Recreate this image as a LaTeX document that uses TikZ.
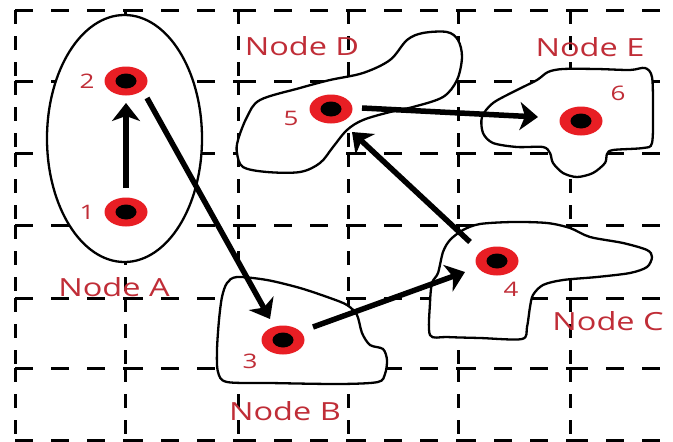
\documentclass[tikz,border=0pt]{standalone}
\usepackage{fontspec}
\setmainfont{Open Sans}
\usetikzlibrary{arrows.meta,shapes.geometric}
\definecolor{dotred}{RGB}{232,30,36}
\definecolor{txtred}{RGB}{192,45,55}
\begin{document}
\begin{tikzpicture}[x=1pt,y=-1pt,
  hdash/.style={line width=3pt, dash pattern=on 18pt off 18pt},
  vdash/.style={line width=3pt, dash pattern=on 14pt off 12pt},
  blob/.style={draw=black, fill=white, line width=2.3pt},
  arr/.style={line width=5.5pt, -{Stealth[length=18pt,width=28pt,inset=5pt]}},
  dot/.style={ellipse, fill=dotred, minimum width=43pt, minimum height=29pt, inner sep=0pt,
    path picture={\fill[black] (path picture bounding box.center) ellipse [x radius=10.5pt, y radius=7.5pt];}},
  numlbl/.style={text=txtred, inner sep=0pt, font=\fontsize{20}{20}\selectfont},
  namelbl/.style={text=txtred, inner sep=0pt, font=\fontsize{25}{25}\selectfont}
]
\useasboundingbox (0,0) rectangle (673,442);
\fill[white] (0,0) rectangle (673,442);
% grid
\foreach \y in {10,81,153,225,298,368,440} {
  \foreach \xa/\xb in {15/125,125/238,238/348,348/458,458/570,570/673} {
    \draw[hdash] (\xa,\y) -- (\xb,\y);
  }
}
\foreach \x in {15,125,238,348,458,570} {
  \foreach \ya/\yb in {10/81,81/153,153/225,225/298,298/368,368/440} {
    \draw[vdash] (\x,\ya) -- (\x,\yb);
  }
}
% Node A ellipse
\draw[blob] (124.5,138.5) ellipse [x radius=77.5, y radius=123.5];
% Node D blob
\draw[blob] plot[smooth cycle, tension=0.55] coordinates {
  (260,100) (300,88) (330,80) (363,73) (390,60) (407,40) (423,33) (447,32) (458,40)
  (462,57) (457,80) (443,97) (413,107) (390,112) (363,120) (347,130) (333,147)
  (320,163) (300,172) (267,172) (243,167) (237,153) (238,140) (247,117)};
% Node E blob
\draw[blob] plot[smooth cycle, tension=0.5] coordinates {
  (482,117) (493,103) (517,90) (537,80) (548,72) (563,69) (597,69) (630,70) (645,68)
  (652,77) (653,110) (652,143) (643,148) (613,150) (607,154) (605,163) (593,173)
  (577,177) (563,173) (553,163) (550,153) (543,147) (517,147) (493,143) (483,133)};
% Node B blob
\draw[blob] plot[smooth cycle, tension=0.5] coordinates {
  (237,277) (267,280) (300,288) (330,298) (347,305) (357,315) (362,333) (370,345)
  (383,349) (387,360) (385,374) (378,382) (340,384) (270,383) (227,382) (218,372)
  (217,350) (219,320) (222,297) (227,283)};
% Node C blob
\draw[blob] plot[smooth cycle, tension=0.5] coordinates {
  (463,230) (480,224) (513,222) (547,223) (570,228) (590,237) (623,243) (647,250)
  (652,257) (647,267) (630,273) (597,277) (563,280) (543,285) (533,295) (530,307)
  (527,327) (522,339) (480,338) (447,337) (430,335) (430,303) (432,283) (438,273)
  (443,252) (450,240)};
% dots
\node[dot] (d1) at (126,212) {};
\node[dot] (d2) at (126,81) {};
\node[dot] (d3) at (283,340) {};
\node[dot] (d4) at (497,261) {};
\node[dot] (d5) at (331,109) {};
\node[dot] (d6) at (581,121) {};
% arrows
\draw[arr] ([shift={(0,-24)}]d1.center) -- ([shift={(0,22)}]d2.center);
\draw[arr] ([shift={(21,17)}]d2.center) -- ([shift={(-13,-21)}]d3.center);
\draw[arr] ([shift={(30,-13)}]d3.center) -- ([shift={(-32,11)}]d4.center);
\draw[arr] ([shift={(-27,-19)}]d4.center) -- ([shift={(21,23)}]d5.center);
\draw[arr] ([shift={(31,-1)}]d5.center) -- ([shift={(-43,-4)}]d6.center);
% number labels
\node[numlbl] (n1) at (87,212) {\scalebox{1.3}[1]{1}};
\node[numlbl] (n2) at (87,81) {\scalebox{1.3}[1]{2}};
\node[numlbl] (n3) at (250,361) {\scalebox{1.3}[1]{3}};
\node[numlbl] (n4) at (511,289) {\scalebox{1.3}[1]{4}};
\node[numlbl] (n5) at (291,118) {\scalebox{1.3}[1]{5}};
\node[numlbl] (n6) at (618,93) {\scalebox{1.3}[1]{6}};
% node names
\node[namelbl] (la) at (114,287) {\scalebox{1.3}[1]{Node A}};
\node[namelbl] (lb) at (285,411) {\scalebox{1.3}[1]{Node B}};
\node[namelbl] (lc) at (608,321) {\scalebox{1.3}[1]{Node C}};
\node[namelbl] (ld) at (302,46) {\scalebox{1.3}[1]{Node D}};
\node[namelbl] (le) at (590,47) {\scalebox{1.3}[1]{Node E}};
\end{tikzpicture}
\end{document}
